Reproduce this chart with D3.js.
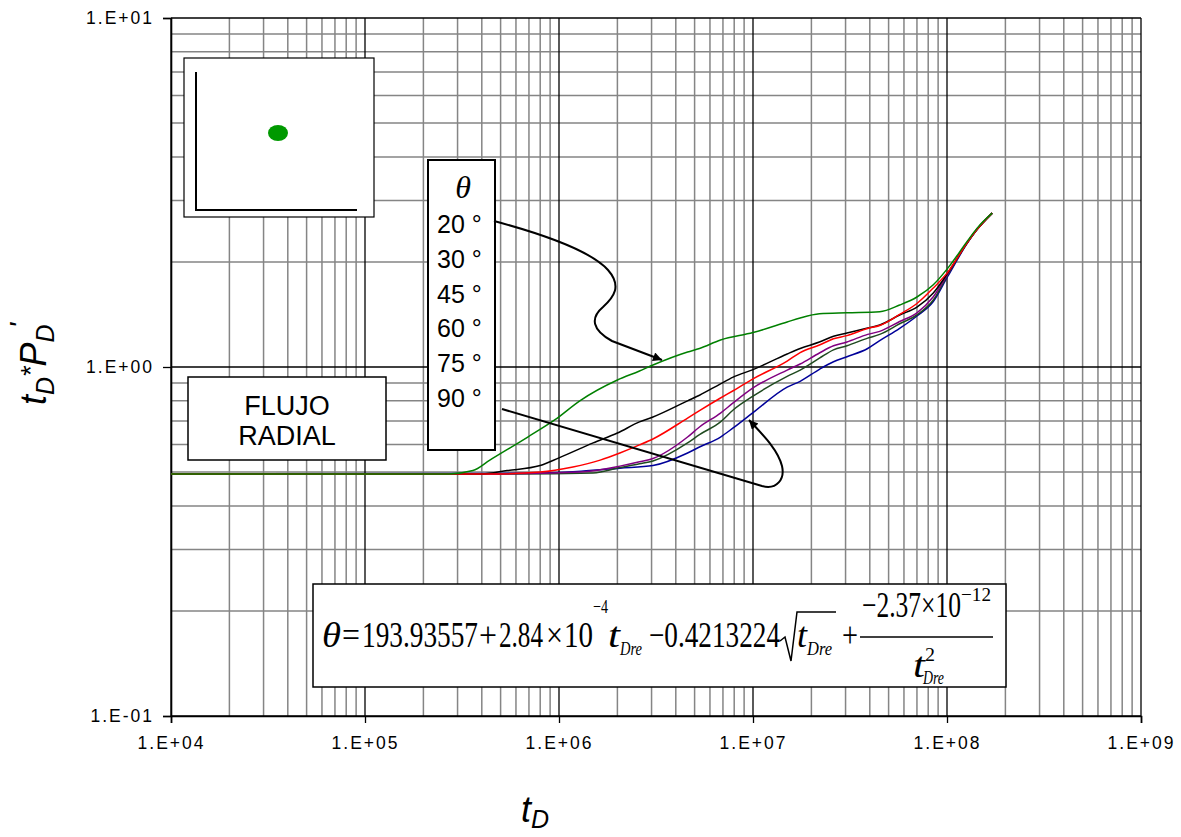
<!DOCTYPE html>
<html>
<head>
<meta charset="utf-8">
<script src="https://cdn.jsdelivr.net/npm/d3@7"></script>
<style>
  body { margin: 0; background: #fff; }
  svg { display: block; }
</style>
</head>
<body>
<div id="chart"></div>
<script>
// curves: [tD, tD*PD']
const theta20 = [[1e4,0.494],[2.7e5,0.494],[3.6e5,0.505],[4.4e5,0.541],[6.9e5,0.63],[9.5e5,0.705],[1.28e6,0.80],[2.0e6,0.918],[2.6e6,0.974],[3.05e6,1.013],[4.6e6,1.104],[5.3e6,1.13],[6.8e6,1.195],[1.0e7,1.255],[1.5e7,1.346],[1.75e7,1.382],[2.2e7,1.42],[3.05e7,1.43],[4.5e7,1.44],[5.7e7,1.505],[7.0e7,1.587],[8.5e7,1.72],[1.01e8,1.92],[1.27e8,2.29],[1.43e8,2.5],[1.71e8,2.76]];
const theta30 = [[1e4,0.494],[4.0e5,0.494],[5.4e5,0.505],[8.0e5,0.522],[1.0e6,0.549],[1.5e6,0.606],[2.0e6,0.647],[2.6e6,0.696],[3.05e6,0.719],[4.6e6,0.80],[5.3e6,0.83],[6.8e6,0.895],[7.9e6,0.935],[1.0e7,0.983],[1.5e7,1.09],[1.75e7,1.13],[2.2e7,1.179],[2.6e7,1.225],[3.05e7,1.252],[3.9e7,1.293],[4.5e7,1.319],[5.7e7,1.409],[7.0e7,1.485],[8.5e7,1.629],[1.01e8,1.86],[1.27e8,2.27],[1.43e8,2.48],[1.71e8,2.76]];
const theta45 = [[1e4,0.494],[4.5e5,0.494],[8.0e5,0.50],[1.18e6,0.517],[1.63e6,0.541],[2.06e6,0.567],[2.6e6,0.598],[3.05e6,0.622],[4.6e6,0.714],[5.3e6,0.75],[6.8e6,0.815],[7.9e6,0.855],[1.0e7,0.925],[1.5e7,1.04],[1.75e7,1.1],[2.2e7,1.156],[2.6e7,1.205],[3.05e7,1.23],[3.9e7,1.29],[4.5e7,1.315],[5.7e7,1.415],[7.0e7,1.52],[8.5e7,1.684],[1.01e8,1.87],[1.27e8,2.27],[1.43e8,2.48],[1.71e8,2.76]];
const theta60 = [[1e4,0.494],[5.0e5,0.494],[1.28e6,0.50],[2.06e6,0.52],[2.6e6,0.535],[3.05e6,0.547],[4.6e6,0.63],[5.3e6,0.673],[6.8e6,0.738],[7.9e6,0.789],[1.0e7,0.871],[1.5e7,0.98],[1.75e7,1.02],[2.2e7,1.097],[2.6e7,1.15],[3.05e7,1.18],[3.9e7,1.24],[4.5e7,1.265],[5.7e7,1.35],[7.0e7,1.43],[8.5e7,1.59],[1.01e8,1.85],[1.27e8,2.27],[1.43e8,2.48],[1.71e8,2.76]];
const theta75 = [[1e4,0.494],[6.0e5,0.494],[1.5e6,0.497],[2.06e6,0.515],[2.6e6,0.528],[3.05e6,0.538],[4.6e6,0.606],[5.3e6,0.64],[6.8e6,0.696],[7.9e6,0.753],[1.0e7,0.825],[1.5e7,0.94],[1.75e7,0.98],[2.2e7,1.06],[2.6e7,1.12],[3.05e7,1.15],[3.9e7,1.21],[4.5e7,1.24],[5.7e7,1.33],[7.0e7,1.41],[8.5e7,1.556],[1.01e8,1.84],[1.27e8,2.27],[1.43e8,2.48],[1.71e8,2.76]];
const theta90 = [[1e4,0.494],[7.0e5,0.496],[1.3e6,0.503],[2.06e6,0.513],[3.05e6,0.522],[4.6e6,0.567],[5.3e6,0.59],[6.8e6,0.63],[7.9e6,0.669],[1.0e7,0.74],[1.5e7,0.876],[1.75e7,0.91],[2.2e7,0.985],[2.6e7,1.035],[3.05e7,1.07],[3.9e7,1.13],[4.5e7,1.19],[5.7e7,1.29],[7.0e7,1.40],[8.5e7,1.54],[1.01e8,1.82],[1.27e8,2.26],[1.43e8,2.48],[1.71e8,2.76]];

const angles = [20, 30, 45, 60, 75, 90];
const xTicks = [1e4, 1e5, 1e6, 1e7, 1e8, 1e9];
const xTickLabels = ["1.E+04", "1.E+05", "1.E+06", "1.E+07", "1.E+08", "1.E+09"];
const yTicks = [0.1, 1, 10];
const yTickLabels = ["1.E-01", "1.E+00", "1.E+01"];

// drawing order: blue under, green on top
const series = [
  {data: theta90, color: "#000099"},
  {data: theta75, color: "#1f4a1f"},
  {data: theta60, color: "#800080"},
  {data: theta30, color: "#000000"},
  {data: theta45, color: "#ff0000"},
  {data: theta20, color: "#008000"}
];

const W = 1181, H = 837;
const plotL = 171, plotR = 1141, plotT = 18, plotB = 716;

const svg = d3.select("#chart").append("svg")
    .attr("width", W)
    .attr("height", H);

svg.append("rect").attr("width", W).attr("height", H).attr("fill", "#fff");

const x = d3.scaleLog().domain([1e4, 1e9]).range([plotL, plotR]);
const y = d3.scaleLog().domain([0.1, 10]).range([plotB, plotT]);

// minor grid
const xMinor = [], yMinor = [];
for (let e = 4; e < 9; e++) for (let k = 2; k <= 9; k++) xMinor.push(k * Math.pow(10, e));
for (let e = -1; e < 1; e++) for (let k = 2; k <= 9; k++) yMinor.push(k * Math.pow(10, e));

const grid = svg.append("g");
grid.selectAll(".vx").data(xMinor).join("line")
    .attr("class", "vx")
    .attr("x1", d => x(d)).attr("x2", d => x(d))
    .attr("y1", plotT).attr("y2", plotB)
    .attr("stroke", "#858585").attr("stroke-width", 1.5);
grid.selectAll(".hy").data(yMinor).join("line")
    .attr("class", "hy")
    .attr("y1", d => y(d)).attr("y2", d => y(d))
    .attr("x1", plotL).attr("x2", plotR)
    .attr("stroke", "#858585").attr("stroke-width", 1.5);
grid.selectAll(".mx").data(xTicks).join("line")
    .attr("class", "mx")
    .attr("x1", d => x(d)).attr("x2", d => x(d))
    .attr("y1", plotT).attr("y2", plotB)
    .attr("stroke", "#000").attr("stroke-width", 1.3);
grid.selectAll(".my").data(yTicks).join("line")
    .attr("class", "my")
    .attr("y1", d => y(d)).attr("y2", d => y(d))
    .attr("x1", plotL).attr("x2", plotR)
    .attr("stroke", "#000").attr("stroke-width", 1.3);

// axes
const xAxis = d3.axisBottom(x)
    .tickValues(xTicks)
    .tickSize(7)
    .tickPadding(14)
    .tickFormat((d, i) => xTickLabels[i]);
const yAxis = d3.axisLeft(y)
    .tickValues(yTicks)
    .tickSize(8)
    .tickPadding(9)
    .tickFormat((d, i) => yTickLabels[i]);

const gx = svg.append("g").attr("transform", `translate(0,${plotB})`).call(xAxis);
const gy = svg.append("g").attr("transform", `translate(${plotL},0)`).call(yAxis);
[gx, gy].forEach(g => {
  g.attr("font-size", null).attr("font-family", null);
  g.select(".domain").attr("stroke", "#000").attr("stroke-width", 1.6);
  g.selectAll(".tick line").attr("stroke", "#000").attr("stroke-width", 1.3);
  g.selectAll("text")
    .attr("fill", "#000")
    .attr("font-family", "'Liberation Sans', Arial, sans-serif")
    .attr("font-size", 17.5)
    .attr("letter-spacing", 2);
});

// curves
const line = d3.line().curve(d3.curveMonotoneX).x(d => x(d[0])).y(d => y(d[1]));
svg.append("g").selectAll("path").data(series).join("path")
    .attr("d", d => line(d.data))
    .attr("fill", "none")
    .attr("stroke", d => d.color)
    .attr("stroke-width", 1.5)
    .attr("stroke-linejoin", "round");

// inset sketch
svg.append("rect").attr("x", 184).attr("y", 58).attr("width", 190).attr("height", 159)
    .attr("fill", "#fff").attr("stroke", "#000").attr("stroke-width", 1.2);
svg.append("path").attr("d", "M196,72 L196,210 L357,210")
    .attr("fill", "none").attr("stroke", "#000").attr("stroke-width", 2);
svg.append("ellipse").attr("cx", 278).attr("cy", 133).attr("rx", 10).attr("ry", 8)
    .attr("fill", "#009900");

// FLUJO RADIAL box
svg.append("rect").attr("x", 188).attr("y", 377).attr("width", 198).attr("height", 83)
    .attr("fill", "#fff").attr("stroke", "#000").attr("stroke-width", 1.5);
const fr = svg.append("text").attr("text-anchor", "middle")
    .style("font-family", "'Liberation Sans', Arial, sans-serif")
    .style("font-size", "27px");
fr.append("tspan").attr("x", 287).attr("y", 415).text("FLUJO");
fr.append("tspan").attr("x", 287).attr("y", 445).text("RADIAL");

// theta legend
svg.append("rect").attr("x", 428).attr("y", 160).attr("width", 67).attr("height", 290)
    .attr("fill", "#fff").attr("stroke", "#000").attr("stroke-width", 2);
svg.append("text").attr("x", 463).attr("y", 198).attr("text-anchor", "middle")
    .style("font-family", "'Liberation Serif', 'Times New Roman', serif")
    .style("font-style", "italic").style("font-size", "32px")
    .text("θ");
svg.append("g").selectAll("text").data(angles).join("text")
    .attr("x", 437)
    .attr("y", (d, i) => 233 + i * 34.8)
    .style("font-family", "'Liberation Sans', Arial, sans-serif")
    .style("font-size", "25px")
    .text(d => d + " °");

// arrows
const defs = svg.append("defs");
defs.append("marker").attr("id", "ah")
    .attr("viewBox", "0 0 10 10").attr("refX", 10).attr("refY", 5)
    .attr("markerWidth", 15).attr("markerHeight", 9)
    .attr("markerUnits", "userSpaceOnUse").attr("orient", "auto")
  .append("path").attr("d", "M0,0 L10,5 L0,10 z").attr("fill", "#000");

svg.append("path")
    .attr("d", "M494,221 C535,232 590,250 608,270 C622,286 614,297 603,307 C590,318 592,330 612,341 L662,360")
    .attr("fill", "none").attr("stroke", "#000").attr("stroke-width", 2)
    .attr("marker-end", "url(#ah)");
svg.append("path")
    .attr("d", "M502,409 L762,486 C777,490 785,479 782,466 C778,450 764,436 749,420")
    .attr("fill", "none").attr("stroke", "#000").attr("stroke-width", 2)
    .attr("marker-end", "url(#ah)");

// equation box
svg.append("rect").attr("x", 313).attr("y", 584).attr("width", 693).attr("height", 103)
    .attr("fill", "#fff").attr("stroke", "#000").attr("stroke-width", 1.5);

const eq = svg.append("g")
    .style("font-family", "'Liberation Serif', 'Times New Roman', serif");
// one text per line, pieces placed as tspans
function eqLine(parts) {
  const t = eq.append("text");
  parts.forEach(p => {
    t.append("tspan")
      .attr("x", p[1]).attr("y", p[2])
      .attr("textLength", p[3]).attr("lengthAdjust", "spacingAndGlyphs")
      .style("font-size", p[4] + "px")
      .style("font-style", p[5] ? "italic" : "normal")
      .text(p[0]);
  });
}
eqLine([
  ["θ", 322, 647, 19, 35, true],
  ["=", 342, 647, 18, 35, false],
  ["193.93557", 362, 647, 116, 35, false],
  ["+", 479, 647, 18, 35, false],
  ["2.84", 499, 647, 44, 35, false],
  ["×", 546, 647, 17, 35, false],
  ["10", 564, 647, 29, 35, false],
  ["−4", 593, 613, 15, 19, false],
  ["t", 608, 647, 12, 35, true],
  ["Dre", 620, 655, 22, 18, true],
  ["−0.4213224", 649, 647, 131, 35, false],
  ["t", 797, 647, 10, 35, true],
  ["Dre", 807, 655, 25, 18, true],
  ["+", 842, 647, 16, 35, false]
]);
eq.append("path").attr("d", "M780,641 L785,637 L791,661 L797,612 L836,612")
    .attr("fill", "none").attr("stroke", "#000").attr("stroke-width", 1.5);
eq.append("line").attr("x1", 860).attr("x2", 993).attr("y1", 637).attr("y2", 637)
    .attr("stroke", "#000").attr("stroke-width", 1.6);
eqLine([
  ["−2.37×10", 862, 617, 99, 35, false],
  ["−12", 961, 601, 30, 19, false]
]);
eqLine([
  ["t", 913, 677, 12, 35, true],
  ["2", 925, 661, 10, 19, false],
  ["Dre", 923, 684, 21, 18, true]
]);

// axis titles
const yt = svg.append("text")
    .attr("transform", "translate(46,364) rotate(-90)")
    .attr("text-anchor", "middle")
    .style("font-family", "'Liberation Sans', Arial, sans-serif")
    .style("font-style", "italic")
    .style("font-size", "36px");
yt.append("tspan").text("t");
yt.append("tspan").attr("dy", 8).style("font-size", "25px").text("D");
yt.append("tspan").attr("dy", -14).style("font-size", "27px").text("*");
yt.append("tspan").attr("dy", 6).text("P");
yt.append("tspan").attr("dy", 8).style("font-size", "25px").text("D");
yt.append("tspan").attr("dy", -25).attr("dx", -4).style("font-size", "28px").text("'");

const xt = svg.append("text")
    .attr("x", 521).attr("y", 822)
    .style("font-family", "'Liberation Sans', Arial, sans-serif")
    .style("font-style", "italic")
    .style("font-size", "36px");
xt.append("tspan").text("t");
xt.append("tspan").attr("dy", 6).style("font-size", "25px").text("D");
</script>
</body>
</html>
